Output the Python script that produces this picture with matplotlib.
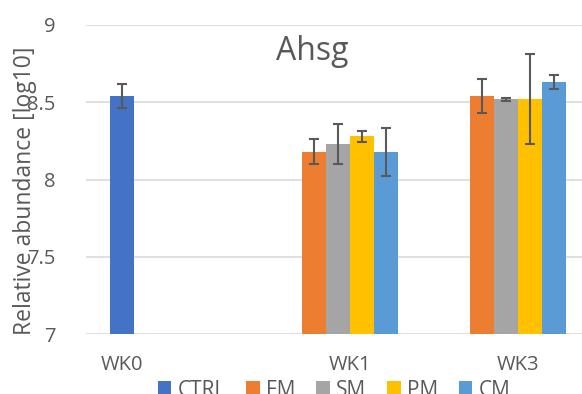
import matplotlib
matplotlib.use("Agg")
import matplotlib.pyplot as plt
import numpy as np

plt.rcParams['font.family'] = ['Open Sans', 'DejaVu Sans']

weeks = ['WK0', 'WK1', 'WK3']
groups = ['CTRL', 'FM', 'SM', 'PM', 'CM']
colors = ['#4472C4', '#ED7D31', '#A5A5A5', '#FFC000', '#5B9BD5']

# mean abundance per group (NaN = not measured that week)
means = {
    'CTRL': [8.54, np.nan, np.nan],
    'FM':   [np.nan, 8.18, 8.54],
    'SM':   [np.nan, 8.23, 8.52],
    'PM':   [np.nan, 8.28, 8.52],
    'CM':   [np.nan, 8.18, 8.63],
}
errs = {
    'CTRL': [0.08, 0, 0],
    'FM':   [0, 0.08, 0.11],
    'SM':   [0, 0.13, 0.01],
    'PM':   [0, 0.035, 0.29],
    'CM':   [0, 0.155, 0.045],
}

fig = plt.figure(figsize=(5.82, 3.94), dpi=100)
ax = fig.add_axes([86 / 582, 60 / 394, 504 / 582, 309 / 394])

x = np.arange(len(weeks))
w = 0.143
bar_pos = {}
for i, (g, c) in enumerate(zip(groups, colors)):
    xs = x + (i - 2) * w
    m = np.array(means[g])
    e = np.array(errs[g])
    ok = ~np.isnan(m)
    ax.bar(xs[ok], m[ok] - 7, bottom=7, width=w, color=c, label=g, zorder=2)
    ax.errorbar(xs[ok], m[ok], yerr=e[ok], fmt='none', ecolor='#595959',
                elinewidth=1.5, capsize=3.5, capthick=1.5, zorder=3)
    for k in np.where(ok)[0]:
        bar_pos.setdefault(k, []).append(xs[k])

# week labels sit under the bars that exist for that week
ax.set_xticks([np.mean(bar_pos[k]) for k in range(len(weeks))])
ax.set_xticklabels(weeks)

ax.set_xlim(-0.5, 2.5)
ax.set_ylim(7, 9)
ax.set_yticks([7, 7.5, 8, 8.5, 9])
ax.set_yticklabels(['7', '7.5', '8', '8.5', '9'])
ax.grid(axis='y', color='#D9D9D9', linewidth=1.2, zorder=0)
ax.set_axisbelow(True)
for s in ax.spines.values():
    s.set_visible(False)
ax.tick_params(length=0, labelsize=14.5, colors='#595959')
ax.tick_params(axis='y', pad=22)
ax.tick_params(axis='x', pad=15)

fig.text(25 / 582, 1 - 191 / 394, 'Relative abundance [log10]', fontsize=16.5,
         color='#595959', rotation=90, ha='center', va='center')

fig.text(312 / 582, 1 - 52 / 394, 'Ahsg', fontsize=23, color='#595959',
         ha='center', va='center')

fig.legend(loc='center', bbox_to_anchor=(334 / 582, 1 - 390 / 394), ncol=5,
           frameon=False, fontsize=15, handlelength=0.65, handleheight=0.65,
           handletextpad=0.3, columnspacing=1.0, labelcolor='#595959',
           borderaxespad=0, borderpad=0)

fig.savefig('out.png', dpi=100)
